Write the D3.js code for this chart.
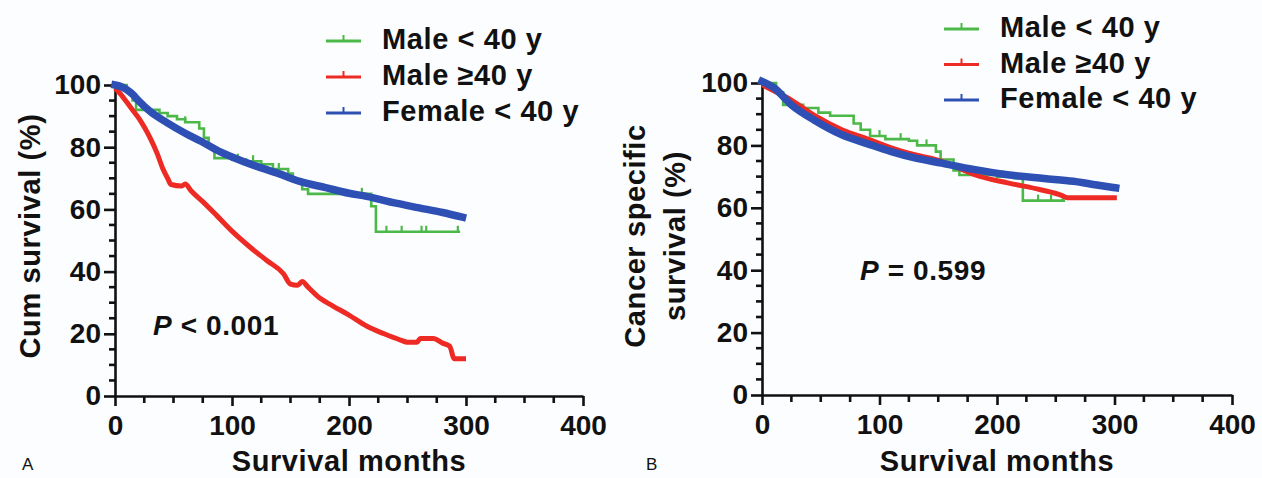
<!DOCTYPE html>
<html>
<head>
<meta charset="utf-8">
<script src="https://cdn.jsdelivr.net/npm/d3@7"></script>
<style>
  html, body { margin: 0; padding: 0; background: #fcfdfe; }
  svg { display: block; }
  text { font-family: "Liberation Sans", Arial, Helvetica, sans-serif; font-weight: bold; fill: #111; }
</style>
</head>
<body>
<svg id="chart" width="1262" height="478"></svg>
<script>
// ---- data (months, survival %) ----
const legendLabels = ["Male < 40 y", "Male \u226540 y", "Female < 40 y"];
const seriesColors = ["#4cb848", "#ee2a24", "#2e50b4"];
const xTicks = [0, 100, 200, 300, 400];
const yTicks = [0, 20, 40, 60, 80, 100];

// panel A: overall survival
const maleYoungA = [[0,100],[10,98],[15,95],[18,92],[38,91],[45,90],[53,89],[60,88],[72,86],[76,83],[80,80],[85,76.5],[100,76],[112,75.5],[125,74.5],[135,73],[148,71.5],[152,69],[160,66.5],[165,65],[217,65],[219,61],[223,52.8],[295,52.8]];
const maleYoungACensor = [60, 105, 118, 140, 190, 211, 232, 245, 262, 266, 293];
const maleOldA = [[0,99],[5,97],[10,94.5],[15,92],[20,89.5],[25,86.5],[30,83],[36,78],[41,73],[45,70],[48,68],[57,67.5],[60,68.2],[65,66],[75,62.5],[87,58],[100,53],[115,48],[130,43.5],[144,39.3],[150,36],[156,35.6],[160,36.8],[165,35],[175,31.5],[186,29],[200,26],[215,22.5],[230,20],[244,18],[250,17.3],[258,17.3],[261,18.5],[272,18.5],[280,17],[286,16],[290,12],[300,12]];
const femaleYoungA = [[0,100],[5,99.5],[10,98.5],[15,97],[20,95],[30,91.5],[44,88],[60,84.5],[73,82],[90,78.5],[101,76.7],[120,74],[140,71.5],[158,69],[180,67],[200,65.2],[215,64.2],[240,62],[260,60.5],[280,59],[297,57.5]];

// panel B: cancer specific survival
const maleYoungB = [[0,100],[12,97],[18,93],[35,92],[48,90.5],[58,89.5],[78,87],[84,85],[92,83],[105,82],[125,81.5],[132,80],[148,78],[152,75.5],[163,72],[168,70.5],[200,70],[215,69.5],[222,62.3],[258,62.3]];
const maleYoungBCensor = [100, 118, 140, 180, 190, 205, 235, 246, 256];
const maleOldB = [[0,99.5],[10,97.5],[25,94.5],[45,89.5],[68,85],[90,82],[110,79.2],[130,77],[153,74.9],[170,72.3],[181,70.6],[209,68],[237,65.8],[255,64],[260,63.2],[302,63.2]];
const femaleYoungB = [[0,100.5],[10,98.5],[25,93],[45,88],[68,83.4],[90,80.5],[110,78],[130,76],[153,74.3],[180,72.3],[209,70.6],[240,69.4],[265,68.5],[285,67.3],[301,66.4]];

const svg = d3.select("#chart");

const panels = [
  { x0: 115, x1: 583, y0: 396, y1: 85, tag: "A", tagX: 22,
    yTitle: ["Cum survival (%)"], yTitleX: [40], pText: ["P", " < 0.001"], pX: 153, pY: 335,
    legX: 326, legY: 49, legDy: 36,
    green: maleYoungA, greenCensor: maleYoungACensor, red: maleOldA, blue: femaleYoungA },
  { x0: 762, x1: 1232, y0: 395, y1: 83, tag: "B", tagX: 646,
    yTitle: ["Cancer specific", "survival (%)"], yTitleX: [645, 685], pText: ["P", " = 0.599"], pX: 860, pY: 280,
    legX: 944, legY: 37, legDy: 35.5,
    green: maleYoungB, greenCensor: maleYoungBCensor, red: maleOldB, blue: femaleYoungB }
];

function stepValue(data, t) {
  let v = data[0][1];
  data.forEach(d => { if (d[0] <= t) v = d[1]; });
  return v;
}

const label = (sel, size) => sel.style("font-size", size + "px").style("letter-spacing", "0.6px");

panels.forEach(p => {
  const x = d3.scaleLinear().domain([0, 400]).range([p.x0, p.x1]);
  const y = d3.scaleLinear().domain([0, 100]).range([p.y0, p.y1]);
  const g = svg.append("g");

  // minor ticks, drawn by hand from the scales
  const minorY = d3.range(0, 101, 5).filter(v => v % 20 !== 0);
  const minorX = d3.range(0, 401, 25).filter(v => v % 100 !== 0);
  g.append("g").selectAll("line").data(minorY).join("line")
    .attr("x1", p.x0).attr("x2", p.x0 - 6).attr("y1", d => y(d)).attr("y2", d => y(d))
    .attr("stroke", "#111").attr("stroke-width", 2.6);
  g.append("g").selectAll("line").data(minorX).join("line")
    .attr("x1", d => x(d)).attr("x2", d => x(d)).attr("y1", p.y0).attr("y2", p.y0 + 7)
    .attr("stroke", "#111").attr("stroke-width", 2.6);

  // major axes
  const ya = g.append("g").attr("transform", `translate(${p.x0},0)`)
    .call(d3.axisLeft(y).tickValues(yTicks).tickSize(11).tickSizeOuter(0).tickPadding(3));
  const xa = g.append("g").attr("transform", `translate(0,${p.y0})`)
    .call(d3.axisBottom(x).tickValues(xTicks).tickSize(10).tickSizeOuter(0).tickPadding(9));
  [ya, xa].forEach(a => {
    a.selectAll("text").style("font-size", "28px").attr("fill", "#111");
    a.select(".domain").attr("stroke", "#111").attr("stroke-width", 2.6);
    a.selectAll(".tick line").attr("stroke", "#111").attr("stroke-width", 2.6);
  });

  // curves
  const stepLine = d3.line().x(d => x(d[0])).y(d => y(d[1])).curve(d3.curveStepAfter);
  const smoothLine = d3.line().x(d => x(d[0])).y(d => y(d[1])).curve(d3.curveMonotoneX);

  g.append("path").datum(p.green).attr("d", stepLine)
    .attr("fill", "none").attr("stroke", seriesColors[0]).attr("stroke-width", 2.6);
  g.append("g").selectAll("line").data(p.greenCensor).join("line")
    .attr("x1", d => x(d)).attr("x2", d => x(d))
    .attr("y1", d => y(stepValue(p.green, d))).attr("y2", d => y(stepValue(p.green, d)) - 6)
    .attr("stroke", seriesColors[0]).attr("stroke-width", 2.2);
  g.append("path").datum(p.red).attr("d", smoothLine)
    .attr("fill", "none").attr("stroke", seriesColors[1]).attr("stroke-width", 5)
    .attr("stroke-linejoin", "round");
  g.append("path").datum(p.blue).attr("d", smoothLine)
    .attr("fill", "none").attr("stroke", seriesColors[2]).attr("stroke-width", 7.5)
    .attr("stroke-linecap", "square");

  // legend
  legendLabels.forEach((lab, i) => {
    const by = p.legY + i * p.legDy;
    const ly = by - 8;
    g.append("line").attr("x1", p.legX).attr("x2", p.legX + 35).attr("y1", ly).attr("y2", ly)
      .attr("stroke", seriesColors[i]).attr("stroke-width", 3);
    g.append("line").attr("x1", p.legX + 17.5).attr("x2", p.legX + 17.5).attr("y1", ly).attr("y2", ly - 6)
      .attr("stroke", seriesColors[i]).attr("stroke-width", 2);
    g.append("text").attr("x", p.legX + 56).attr("y", by).text(lab).call(label, 29);
  });

  // axis titles
  p.yTitle.forEach((t, i) => {
    g.append("text").attr("transform", `translate(${p.yTitleX[i]},236) rotate(-90)`)
      .attr("text-anchor", "middle").text(t).call(label, 29);
  });
  g.append("text").attr("x", (p.x0 + p.x1) / 2).attr("y", 471)
    .attr("text-anchor", "middle").text("Survival months").call(label, 29);
  g.append("text").attr("x", p.tagX).attr("y", 470)
    .style("font-size", "17px").style("font-weight", "normal").text(p.tag);

  // p value
  const pt = g.append("text").attr("x", p.pX).attr("y", p.pY).call(label, 28);
  pt.append("tspan").style("font-style", "italic").text(p.pText[0]);
  pt.append("tspan").text(p.pText[1]);
});
</script>
</body>
</html>
